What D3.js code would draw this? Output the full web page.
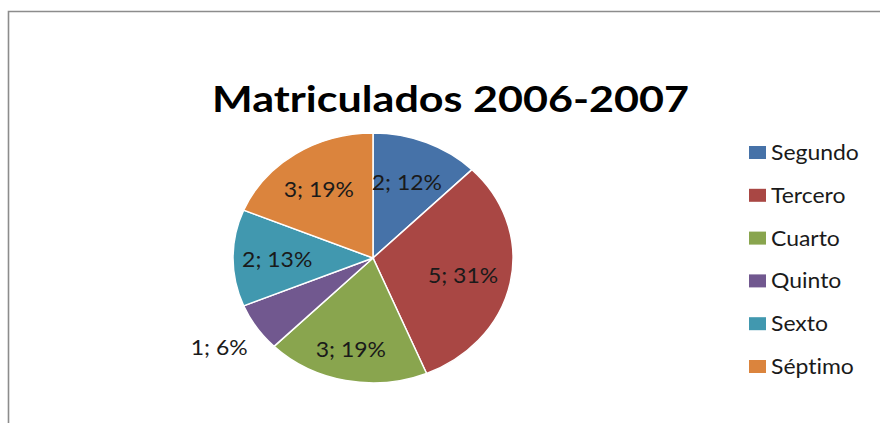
<!DOCTYPE html>
<meta charset="utf-8">
<head>
  <style>
    body { margin: 0; background: #fff; }
    text { font-family: Lato, "Open Sans", sans-serif; fill: #1a1a1a; font-variant-ligatures: none; }
  </style>
  <script src="https://cdn.jsdelivr.net/npm/d3@7"></script>
</head>
<body>
<script>
  var width = 880, height = 423;

  var categories = ["Segundo", "Tercero", "Cuarto", "Quinto", "Sexto", "Séptimo"];
  var values = [2, 5, 3, 1, 2, 3];
  var percentLabels = ["12%", "31%", "19%", "6%", "13%", "19%"];
  var colors = ["#4672a8", "#a94744", "#89a54e", "#71588f", "#4198af", "#db843d"];

  var svg = d3.select("body").append("svg")
      .attr("width", width)
      .attr("height", height);

  // chart frame (only top + left edges are visible in the crop)
  svg.append("path")
      .attr("d", "M8.5," + height + "V11.5H" + width)
      .attr("fill", "none")
      .attr("stroke", "#8c8c8c")
      .attr("stroke-width", 1.6);

  // horizontal stretch of the original picture
  var sx = 1.12;

  var title = svg.append("text")
      .attr("x", 450.5)
      .attr("y", 112)
      .attr("text-anchor", "middle")
      .style("font-size", "37px")
      .style("font-weight", "bold")
      .style("fill", "#000")
      .text("Matriculados 2006-2007");
  title.attr("textLength", 477).attr("lengthAdjust", "spacingAndGlyphs");

  var cx = 373, cy = 258, ry = 125;

  var pie = d3.pie().sort(null).value(function(d) { return d; });
  var arcs = pie(values);

  var arc = d3.arc().innerRadius(0).outerRadius(ry);
  var labelArc = d3.arc().innerRadius(ry * 0.67).outerRadius(ry * 0.67);
  var edgeArc = d3.arc().innerRadius(ry).outerRadius(ry);

  var g = svg.append("g")
      .attr("transform", "translate(" + cx + "," + cy + ")");

  g.append("g")
      .attr("transform", "scale(" + sx + ",1)")
    .selectAll("path")
      .data(arcs)
    .enter().append("path")
      .attr("d", arc)
      .attr("fill", function(d, i) { return colors[i]; })
      .attr("stroke", "#fff")
      .attr("stroke-width", 1.5)
      .attr("vector-effect", "non-scaling-stroke");

  g.selectAll("text.lbl")
      .data(arcs)
    .enter().append("text")
      .attr("class", "lbl")
      .attr("transform", function(d, i) {
        var c;
        if (values[i] === 1) {
          // small slice: label pushed outside, bottom-left
          var o = edgeArc.centroid(d);
          return "translate(" + (o[0] * sx - 9) + "," + (o[1] + 28) + ")scale(" + sx + ",1)";
        }
        c = labelArc.centroid(d);
        if (i === 2) c = [c[0] * 1.1, c[1] * 1.1];
        return "translate(" + (c[0] * sx - 2) + "," + (c[1] + 9) + ")scale(" + sx + ",1)";
      })
      .attr("text-anchor", function(d, i) { return values[i] === 1 ? "end" : "middle"; })
      .style("font-size", "20.5px")
      .text(function(d, i) { return values[i] + "; " + percentLabels[i]; });

  var legend = svg.append("g")
      .attr("transform", "translate(749,0)");

  var rows = legend.selectAll("g")
      .data(categories)
    .enter().append("g")
      .attr("transform", function(d, i) { return "translate(0," + (152.5 + i * 42.8) + ")"; });

  rows.append("rect")
      .attr("x", 0)
      .attr("y", -6.5)
      .attr("width", 17)
      .attr("height", 13)
      .attr("fill", function(d, i) { return colors[i]; });

  rows.append("text")
      .attr("transform", "translate(22,7.5)scale(" + sx + ",1)")
      .style("font-size", "20.5px")
      .text(function(d) { return d; });
</script>
</body>
